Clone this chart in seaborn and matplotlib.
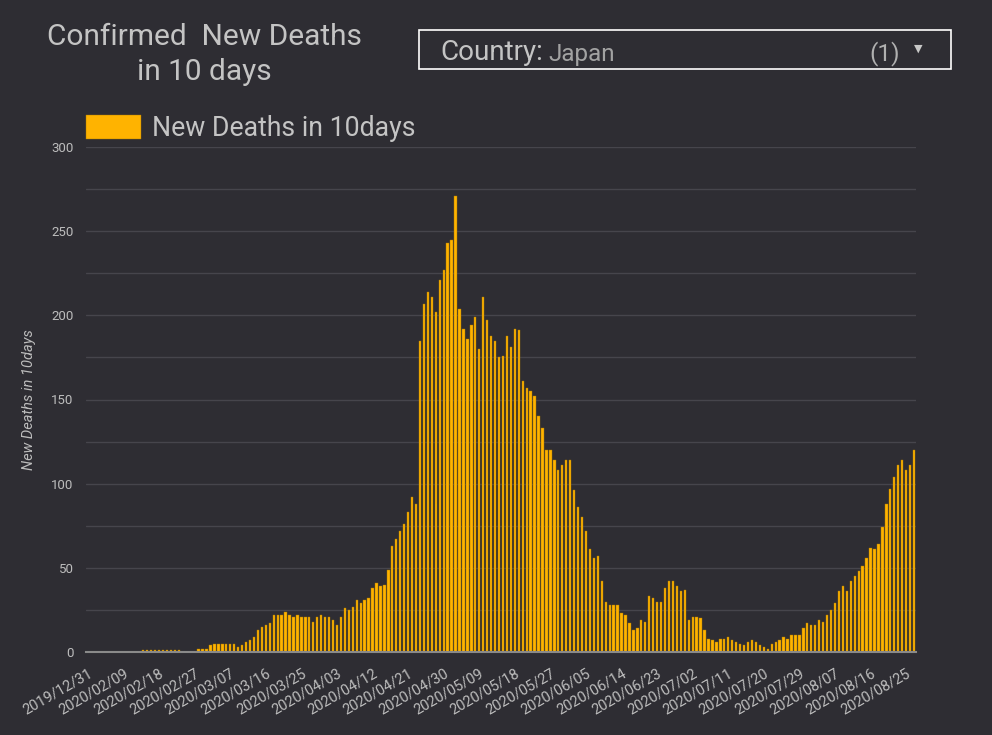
import pandas as pd
import seaborn as sns
import matplotlib.pyplot as plt
from matplotlib.patches import Rectangle

# categories: 2019/12/31 then one bar per day from 2020/02/01 to 2020/08/27
dates = ['2019/12/31'] + list(pd.date_range('2020-02-01', '2020-08-27').strftime('%Y/%m/%d'))

# New deaths in 10 days
deaths = [
    0, 0, 0, 0, 0, 0, 0, 0, 0, 0, 0, 0, 0, 0,           # 12/31, 02/01-02/13
    1, 1, 1, 1, 1, 1, 1, 1, 1, 1,                       # 02/14-02/23
    0, 0, 0, 0,                                         # 02/24-02/27
    2, 2, 2, 4, 5, 5, 5, 5, 5, 5, 3, 4, 6, 7, 9, 13,    # 02/28-03/14
    15, 16, 17, 22, 22, 22, 24, 22, 21, 22, 21, 21,     # 03/15-03/26
    21, 18, 21, 22, 21, 21, 19, 16, 21, 26, 25, 27,     # 03/27-04/07
    31, 29, 31, 32, 38, 41, 39, 40, 49, 63, 67, 72,     # 04/08-04/19
    76, 83, 92, 88, 185, 207, 214, 211, 202, 221, 227,  # 04/20-04/30
    243, 245, 271, 204, 192, 186, 194, 199, 180, 211,   # 05/01-05/10
    197, 188, 185, 175, 176, 188, 181, 192, 191, 161,   # 05/11-05/20
    157, 155, 152, 140, 133, 120, 120, 114, 108, 111,   # 05/21-05/30
    114, 114, 96, 86, 80, 72, 61, 56, 57, 42,           # 05/31-06/09
    30, 28, 28, 28, 23, 22, 17, 13, 14, 19,             # 06/10-06/19
    18, 33, 32, 30, 30, 38, 42, 42, 39, 36,             # 06/20-06/29
    37, 19, 21, 21, 20, 13, 8, 7, 6, 8,                 # 06/30-07/09
    8, 9, 7, 6, 5, 4, 6, 7, 6, 4,                       # 07/10-07/19
    3, 2, 5, 6, 7, 9, 8, 10, 10, 10,                    # 07/20-07/29
    14, 17, 16, 16, 19, 18, 22, 25, 29, 36,             # 07/30-08/08
    39, 36, 42, 45, 48, 51, 56, 62, 61, 64,             # 08/09-08/18
    74, 88, 97, 104, 111, 114, 108, 111, 120,           # 08/19-08/27
]

series_name = 'New Deaths in 10days'
country = 'Japan'

df = pd.DataFrame({'date': dates, 'deaths': deaths})

bg = '#2e2d33'
txt = '#c4c4c4'
bar_col = '#ffb300'

sns.set_theme(style='dark')
plt.rcParams['font.family'] = ['Roboto', 'DejaVu Sans']

fig = plt.figure(figsize=(9.92, 7.35), dpi=100, facecolor=bg)
ax = fig.add_axes([86 / 992, 83 / 735, 830 / 992, 505 / 735], facecolor=bg)

sns.barplot(data=df, x='date', y='deaths', color=bar_col, saturation=1,
            width=0.58, edgecolor='#a87700', linewidth=0.3,
            label=series_name, ax=ax)

ax.set_xlim(-0.5, len(dates) - 0.5)
ax.set_ylim(0, 300)
ax.set_yticks(range(0, 301, 50))
ax.set_yticks(range(25, 300, 50), minor=True)
ax.grid(True, axis='y', which='both', color='#46454c', linewidth=1)
ax.grid(False, axis='x')
ax.set_axisbelow(True)

ax.set_xticks(range(0, len(dates), 9))
ax.set_xticklabels(dates[::9], rotation=30, ha='right', va='top',
                   rotation_mode='anchor', color='#bdbdbd', fontsize=10.5)
ax.tick_params(axis='x', length=0, pad=10)
ax.tick_params(axis='y', which='both', length=0, pad=9, labelsize=9.5, labelcolor='#bdbdbd')

for s in ['top', 'right', 'left']:
    ax.spines[s].set_visible(False)
ax.spines['bottom'].set_color('#8a8a8a')
ax.spines['bottom'].set_linewidth(1.5)

ax.set_xlabel('')
ax.set_ylabel(series_name, fontsize=10.5, color='#bdbdbd', style='italic')
ax.yaxis.set_label_coords(-0.06, 0.5)

leg = ax.legend(loc='lower left', bbox_to_anchor=(86 / 992, 593 / 735),
                bbox_transform=fig.transFigure, frameon=False, fontsize=19.2,
                handlelength=2.05, handleheight=1.0, handletextpad=0.42,
                borderpad=0, borderaxespad=0)
for t in leg.get_texts():
    t.set_color(txt)

# title
fig.text(204 / 992, 1 - 45 / 735, 'Confirmed  New Deaths', ha='center', va='baseline',
         fontsize=21.5, color=txt)
fig.text(204 / 992, 1 - 80 / 735, 'in 10 days', ha='center', va='baseline',
         fontsize=21.5, color=txt)

# country selector box
fig.patches.append(Rectangle((419 / 992, 1 - 69 / 735), 532 / 992, 39 / 735,
                             transform=fig.transFigure, fill=False,
                             edgecolor='white', linewidth=1.2))
t1 = fig.text(440 / 992, 1 - 60 / 735, 'Country:', ha='left', va='baseline',
              fontsize=20, color=txt)
ax.annotate(country, xy=(1, 0), xycoords=t1, xytext=(4, 0), textcoords='offset points',
            ha='left', va='bottom', fontsize=17.5, color='#a2a2a2')
fig.text(900 / 992, 1 - 60 / 735, '(1)', ha='right', va='baseline',
         fontsize=17.5, color='#b0b0b0')
fig.text(918 / 992, 1 - 49 / 735, '\u25bc', ha='center', va='center',
         fontsize=8, color='#c8c8c8', family=['DejaVu Sans'])

fig.savefig('out.png', dpi=100, facecolor=bg)
